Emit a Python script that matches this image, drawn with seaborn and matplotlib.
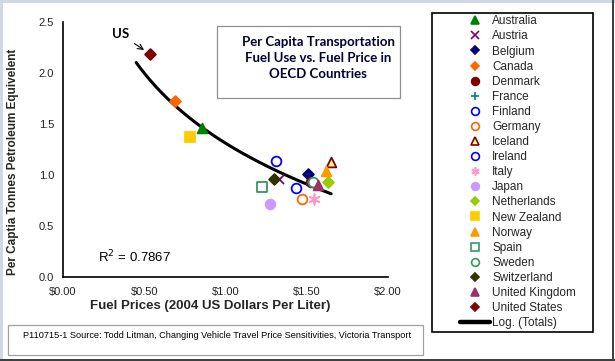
import numpy as np
import pandas as pd
import matplotlib
matplotlib.use("Agg")
import matplotlib.pyplot as plt
from matplotlib.lines import Line2D
from matplotlib.patches import Rectangle
import seaborn as sns

# ---- data ----
countries = ["Australia", "Austria", "Belgium", "Canada", "Denmark", "France",
             "Finland", "Germany", "Iceland", "Ireland", "Italy", "Japan",
             "Netherlands", "New Zealand", "Norway", "Spain", "Sweden",
             "Switzerland", "United Kingdom", "United States"]
fuel_price = [0.856, 1.33, 1.508, 0.69, 1.525, 1.535,
              1.309, 1.473, 1.652, 1.432, 1.545, 1.274,
              1.628, 0.78, 1.619, 1.222, 1.54,
              1.30, 1.57, 0.537]
fuel_use = [1.458, 0.96, 1.007, 1.725, 0.935, 0.93,
            1.137, 0.768, 1.127, 0.876, 0.765, 0.716,
            0.928, 1.375, 1.04, 0.885, 0.93,
            0.958, 0.90, 2.18]
x_ticks = [0.0, 0.5, 1.0, 1.5, 2.0]
x_tick_labels = ["$0.00", "$0.50", "$1.00", "$1.50", "$2.00"]
y_ticks = [0.0, 0.5, 1.0, 1.5, 2.0, 2.5]
y_tick_labels = ["0.0", "0.5", "1.0", "1.5", "2.0", "2.5"]
trend_range = [0.45, 1.65]
r2_label = "R$^2$ = 0.7867"

# marker styles: (marker, face, edge)
styles = {
    "Australia": ("^", "#008000", "#008000"),
    "Austria": ("x", "#800080", "#800080"),
    "Belgium": ("D", "#000080", "#000080"),
    "Canada": ("D", "#FF6600", "#FF6600"),
    "Denmark": ("o", "#800000", "#800000"),
    "France": ("+", "#008080", "#008080"),
    "Finland": ("o", "white", "#0000FF"),
    "Germany": ("o", "white", "#FF6600"),
    "Iceland": ("^", "#FFFF99", "#800000"),
    "Ireland": ("o", "white", "#0000FF"),
    "Italy": ((6, 2, 0), "#FF99CC", "#FF99CC"),
    "Japan": ("o", "#CC99FF", "#CC99FF"),
    "Netherlands": ("D", "#99CC00", "#99CC00"),
    "New Zealand": ("s", "#FFCC00", "#FFCC00"),
    "Norway": ("^", "#FF9900", "#FF9900"),
    "Spain": ("s", "white", "#339966"),
    "Sweden": ("o", "white", "#339966"),
    "Switzerland": ("D", "#333300", "#333300"),
    "United Kingdom": ("^", "#993366", "#993366"),
    "United States": ("D", "#800000", "#800000"),
}
sizes = {"o": 7.0, "^": 7.0, "D": 5.5, "s": 7.0, "x": 6.5, "+": 7.0}

df = pd.DataFrame({"country": countries, "price": fuel_price, "use": fuel_use})

sns.set_theme(style="white")
plt.rcParams["font.family"] = ["Liberation Sans", "DejaVu Sans"]

W, H = 615, 361
fig = plt.figure(figsize=(W / 100, H / 100), dpi=100)
fig.patch.set_facecolor("white")

def fx(px):
    return px / W

def fy(py):
    return 1 - py / H

ax = fig.add_axes([fx(63), fy(277), fx(388) - fx(63), fy(21.7) - fy(277)])
ax.set_facecolor("none")

handles = []
for _, row in df.iterrows():
    m, face, edge = styles[row["country"]]
    ms = sizes.get(m, 7.0) if not isinstance(m, tuple) else 7.5
    sub = df[df["country"] == row["country"]]
    filled = m in ("o", "^", "D", "s")
    if filled:
        sns.scatterplot(data=sub, x="price", y="use", marker=m, s=ms ** 2,
                        color=face, edgecolor=edge, linewidth=1.3, ax=ax,
                        zorder=3, legend=False)
    else:
        sns.scatterplot(data=sub, x="price", y="use", marker=m, s=ms ** 2,
                        color=edge, linewidth=1.3, ax=ax, zorder=3, legend=False)
    handles.append(Line2D([], [], linestyle="none", marker=m, markersize=ms * 0.8,
                          markerfacecolor=face if filled else edge,
                          markeredgecolor=edge, markeredgewidth=1.2,
                          label=row["country"]))

# logarithmic trend fitted to the data
b, a = np.polyfit(np.log(df["price"]), df["use"], 1)
tx = np.linspace(trend_range[0], trend_range[1], 200)
trend = pd.DataFrame({"x": tx, "y": a + b * np.log(tx)})
sns.lineplot(data=trend, x="x", y="y", color="black", linewidth=2.2, ax=ax,
             zorder=2)
handles.append(Line2D([], [], color="black", linewidth=3.2, label="Log. (Totals)"))

ax.set_xlim(0, 2.0)
ax.set_ylim(0, 2.5)
ax.set_xticks(x_ticks)
ax.set_xticklabels(x_tick_labels)
ax.set_yticks(y_ticks)
ax.set_yticklabels(y_tick_labels)
for s in ["top", "right"]:
    ax.spines[s].set_visible(False)
for s in ["left", "bottom"]:
    ax.spines[s].set_color("black")
    ax.spines[s].set_linewidth(1.2)
ax.tick_params(axis="both", direction="out", length=3.5, width=1.0,
               color="black", labelsize=8, labelcolor="#222222")
ax.tick_params(axis="x", pad=4)
ax.tick_params(axis="y", pad=3)
ax.set_xlabel("")
ax.set_ylabel("")

fig.text(fx(210), fy(306.5), "Fuel Prices (2004 US Dollars Per Liter)",
         ha="center", va="center", fontsize=9.5, fontweight="bold")
fig.text(fx(13), fy(162), "Per Captia Tonnes Petroleum Equivelent",
         ha="center", va="center", rotation=90, fontsize=8.5, fontweight="bold")

ax.text(0.216, 0.196, r2_label, ha="left", va="center", fontsize=9.5,
        color="black")
ax.annotate("US", xy=(0.506, 2.215), xytext=(0.352, 2.38),
            ha="center", va="center", fontsize=9.5, fontweight="bold",
            family=["Lato", "DejaVu Sans"], color="black",
            arrowprops=dict(arrowstyle="->", color="black", lw=0.8,
                            shrinkA=2, shrinkB=1))

# title box
fig.patches.append(Rectangle((fx(216.7), fy(98.3)), fx(400) - fx(216.7),
                             fy(26) - fy(98.3), transform=fig.transFigure,
                             facecolor="white", edgecolor="#909090", lw=0.9,
                             zorder=-1))
fig.text(fx(318), fy(58), "Per Capita Transportation\nFuel Use vs. Fuel Price in\nOECD Countries",
         ha="center", va="center", fontsize=9.5, fontweight="bold",
         color="#000033", linespacing=1.35, family=["Lato", "DejaVu Sans"])

# source box
fig.patches.append(Rectangle((fx(8), fy(355)), fx(423) - fx(8), fy(325) - fy(355),
                             transform=fig.transFigure, facecolor="white",
                             edgecolor="#A0A0A0", lw=0.9, zorder=-1))
fig.text(fx(23), fy(336), "P110715-1 Source: Todd Litman, Changing Vehicle Travel Price Sensitivities, Victoria Transport",
         ha="left", va="center", fontsize=6.6, color="black")

# legend box
fig.patches.append(Rectangle((fx(432), fy(332)), fx(593) - fx(432), fy(13) - fy(332),
                             transform=fig.transFigure, facecolor="white",
                             edgecolor="black", lw=1.2, zorder=-1))
leg = fig.legend(handles=handles, loc="upper left",
                 bbox_to_anchor=(fx(458), fy(13)), bbox_transform=fig.transFigure,
                 frameon=False, fontsize=8.5, borderpad=0.2, borderaxespad=0,
                 labelspacing=0.262, handlelength=2.55, handletextpad=0.15)
leg.set_zorder(5)

# outer frame
fig.patches.append(Rectangle((0, 0), fx(3), 1, transform=fig.transFigure,
                             facecolor="#D0D8E6", edgecolor="none", zorder=-2))
fig.patches.append(Rectangle((0, fy(2.5)), 1, fy(0) - fy(2.5), transform=fig.transFigure,
                             facecolor="#D0D8E6", edgecolor="none", zorder=-2))
fig.patches.append(Rectangle((fx(612), 0), fx(1.5), 1, transform=fig.transFigure,
                             facecolor="#404040", edgecolor="none", zorder=-2))
fig.patches.append(Rectangle((0, fy(360.5)), 1, fy(359) - fy(360.5), transform=fig.transFigure,
                             facecolor="#404040", edgecolor="none", zorder=-2))

fig.savefig("out.png", dpi=100)
